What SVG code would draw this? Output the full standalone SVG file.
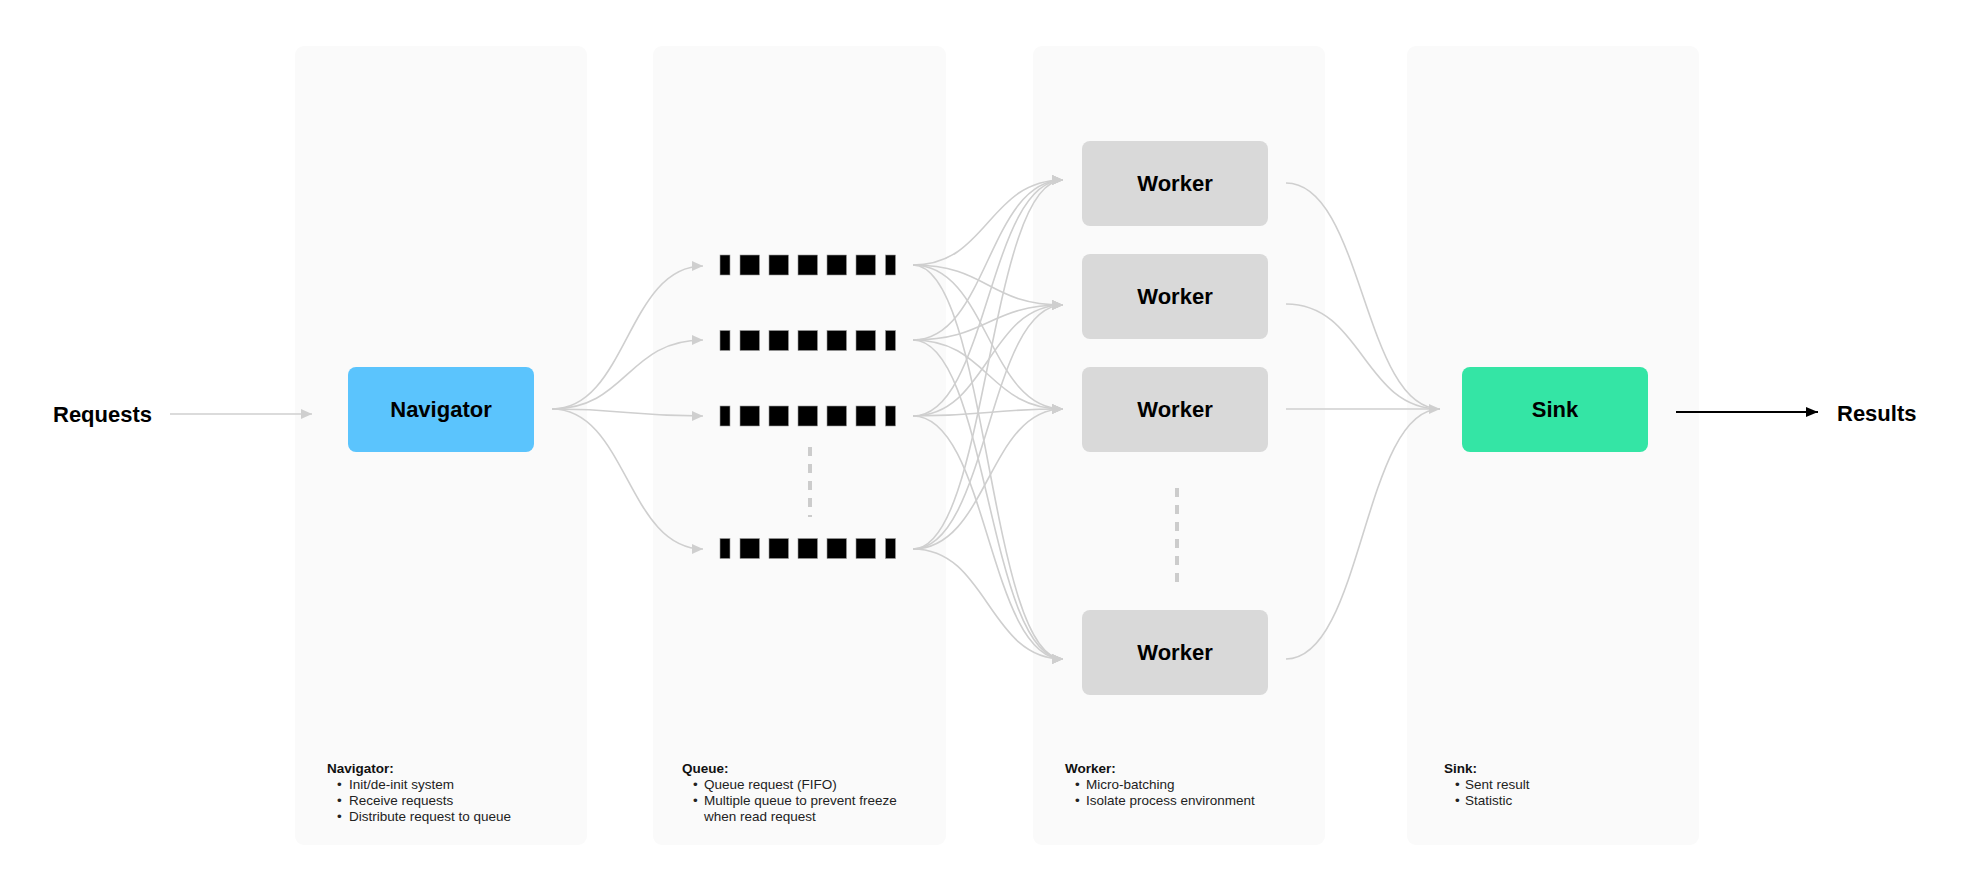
<svg xmlns="http://www.w3.org/2000/svg" width="1982" height="896" viewBox="0 0 1982 896">
<style>
.panel{fill:#fafafa}
.title{font-family:"Liberation Sans",Arial,sans-serif;font-weight:bold;font-size:22px;fill:#000}
.cap{font-family:"Liberation Sans",Arial,sans-serif;font-size:13.5px;fill:#222}
.capb{font-family:"Liberation Sans",Arial,sans-serif;font-size:13.5px;font-weight:bold;fill:#111}
.conn{fill:none;stroke:#cfcfcf;stroke-width:1.6;marker-end:url(#ag)}
.noarrow{fill:none;stroke:#cfcfcf;stroke-width:1.6}
.dots{stroke:#cccccc;stroke-width:4;stroke-dasharray:9 8}
.blk{fill:#000;stroke:#999;stroke-width:0.6}
.worker{fill:#d9d9d9}
</style>
<defs>
<marker id="ag" markerUnits="userSpaceOnUse" markerWidth="11" markerHeight="10" refX="11" refY="5" orient="auto">
<path d="M0,0 L11,5 L0,10 z" fill="#cfcfcf"/>
</marker>
<marker id="ab" markerUnits="userSpaceOnUse" markerWidth="12" markerHeight="10" refX="12" refY="5" orient="auto">
<path d="M0,0 L12,5 L0,10 z" fill="#000"/>
</marker>
<g id="queueBar">
<rect class="blk" x="0" y="-10" width="10" height="20"/>
<rect class="blk" x="20" y="-10" width="19.5" height="20"/>
<rect class="blk" x="49" y="-10" width="19.5" height="20"/>
<rect class="blk" x="78" y="-10" width="19.5" height="20"/>
<rect class="blk" x="107" y="-10" width="19.5" height="20"/>
<rect class="blk" x="136" y="-10" width="19.5" height="20"/>
<rect class="blk" x="165.5" y="-10" width="10" height="20"/>
</g>
</defs>
<rect width="1982" height="896" fill="#fff"/>

<g id="panels">
<rect class="panel" x="295" y="46" width="292" height="799" rx="9"/>
<rect class="panel" x="653" y="46" width="293" height="799" rx="9"/>
<rect class="panel" x="1033" y="46" width="292" height="799" rx="9"/>
<rect class="panel" x="1407" y="46" width="292" height="799" rx="9"/>
</g>

<g id="connectors">
<line class="conn" x1="170" y1="414" x2="312" y2="414"/>
<path class="conn" d="M552,409 C627,409 627,266 703,266"/>
<path class="conn" d="M552,409 C627,409 627,340 703,340"/>
<path class="conn" d="M552,409 C627,409 627,416 703,416"/>
<path class="conn" d="M552,409 C627,409 627,549 703,549"/>

<path class="conn" d="M913,265 C988,265 988,180 1063,180"/>
<path class="conn" d="M913,265 C988,265 988,305 1063,305"/>
<path class="conn" d="M913,265 C988,265 988,409 1063,409"/>
<path class="conn" d="M913,265 C988,265 988,659 1063,659"/>
<path class="conn" d="M913,340 C988,340 988,180 1063,180"/>
<path class="conn" d="M913,340 C988,340 988,305 1063,305"/>
<path class="conn" d="M913,340 C988,340 988,409 1063,409"/>
<path class="conn" d="M913,340 C988,340 988,659 1063,659"/>
<path class="conn" d="M913,416 C988,416 988,180 1063,180"/>
<path class="conn" d="M913,416 C988,416 988,305 1063,305"/>
<path class="conn" d="M913,416 C988,416 988,409 1063,409"/>
<path class="conn" d="M913,416 C988,416 988,659 1063,659"/>
<path class="conn" d="M913,549 C988,549 988,180 1063,180"/>
<path class="conn" d="M913,549 C988,549 988,305 1063,305"/>
<path class="conn" d="M913,549 C988,549 988,409 1063,409"/>
<path class="conn" d="M913,549 C988,549 988,659 1063,659"/>

<path class="noarrow" d="M1286,183 C1363,183 1363,409 1440,409"/>
<path class="noarrow" d="M1286,304 C1363,304 1363,409 1440,409"/>
<path class="conn" d="M1286,409 L1440,409"/>
<path class="noarrow" d="M1286,659 C1363,659 1363,409 1440,409"/>

<line x1="1676" y1="412" x2="1818" y2="412" stroke="#000" stroke-width="2" marker-end="url(#ab)"/>
</g>

<g id="requests"><text class="title" x="53" y="422">Requests</text></g>

<g id="navigator">
<rect x="348" y="367" width="186" height="85" rx="8" fill="#5bc4fd"/>
<text class="title" x="441" y="417" text-anchor="middle">Navigator</text>
</g>

<g id="queues">
<use href="#queueBar" x="720" y="265"/>
<use href="#queueBar" x="720" y="340.5"/>
<use href="#queueBar" x="720" y="416"/>
<use href="#queueBar" x="720" y="548.5"/>
<line class="dots" x1="810" y1="447" x2="810" y2="517"/>
</g>

<g id="worker1"><rect class="worker" x="1082" y="141" width="186" height="85" rx="8"/><text class="title" x="1175" y="191" text-anchor="middle">Worker</text></g>
<g id="worker2"><rect class="worker" x="1082" y="254" width="186" height="85" rx="8"/><text class="title" x="1175" y="304" text-anchor="middle">Worker</text></g>
<g id="worker3"><rect class="worker" x="1082" y="367" width="186" height="85" rx="8"/><text class="title" x="1175" y="417" text-anchor="middle">Worker</text></g>
<g id="worker4"><rect class="worker" x="1082" y="610" width="186" height="85" rx="8"/><text class="title" x="1175" y="660" text-anchor="middle">Worker</text></g>
<g id="workerDots"><line class="dots" x1="1177" y1="488" x2="1177" y2="583"/></g>

<g id="sink">
<rect x="1462" y="367" width="186" height="85" rx="8" fill="#34e5a5"/>
<text class="title" x="1555" y="417" text-anchor="middle">Sink</text>
</g>

<g id="results"><text class="title" x="1837" y="421">Results</text></g>

<g id="navCaption">
<text class="capb" x="327" y="773">Navigator:</text>
<text class="cap" x="337" y="789">•</text><text class="cap" x="349" y="789">Init/de-init system</text>
<text class="cap" x="337" y="805">•</text><text class="cap" x="349" y="805">Receive requests</text>
<text class="cap" x="337" y="821">•</text><text class="cap" x="349" y="821">Distribute request to queue</text>
</g>
<g id="queueCaption">
<text class="capb" x="682" y="773">Queue:</text>
<text class="cap" x="693" y="789">•</text><text class="cap" x="704" y="789">Queue request (FIFO)</text>
<text class="cap" x="693" y="805">•</text><text class="cap" x="704" y="805">Multiple queue to prevent freeze</text>
<text class="cap" x="704" y="821">when read request</text>
</g>
<g id="workerCaption">
<text class="capb" x="1065" y="773">Worker:</text>
<text class="cap" x="1075" y="789">•</text><text class="cap" x="1086" y="789">Micro-batching</text>
<text class="cap" x="1075" y="805">•</text><text class="cap" x="1086" y="805">Isolate process environment</text>
</g>
<g id="sinkCaption">
<text class="capb" x="1444" y="773">Sink:</text>
<text class="cap" x="1455" y="789">•</text><text class="cap" x="1465" y="789">Sent result</text>
<text class="cap" x="1455" y="805">•</text><text class="cap" x="1465" y="805">Statistic</text>
</g>
</svg>
